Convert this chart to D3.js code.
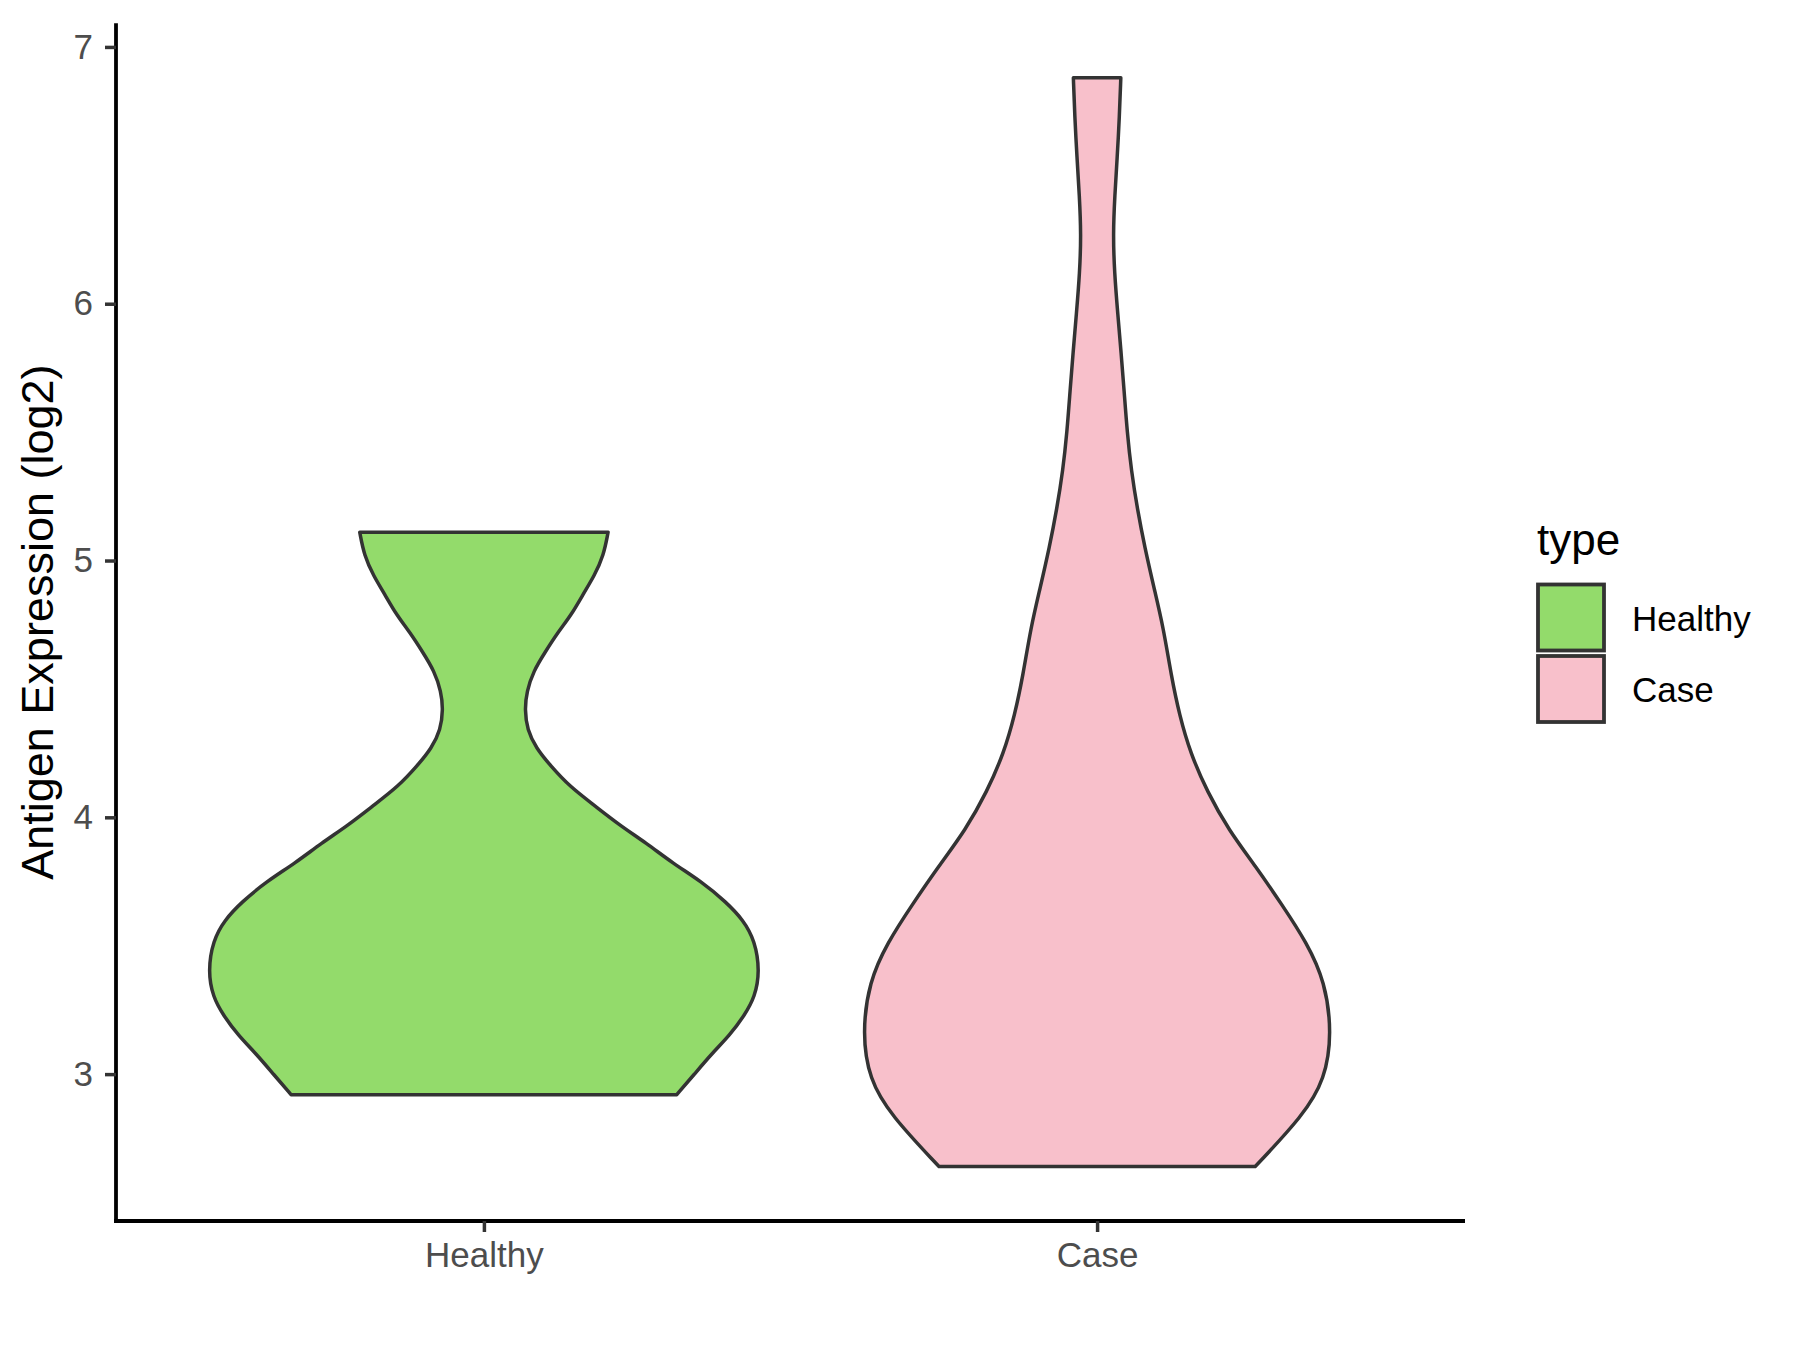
<!DOCTYPE html>
<html>
<head>
<meta charset="utf-8">
<script src="https://cdn.jsdelivr.net/npm/d3@7"></script>
<style>
body {margin: 0; background: #fff;}
text {font-family: "Liberation Sans", Arial, sans-serif;}
</style>
</head>
<body>
<div id="chart"></div>
<script>
// violin profiles: expression value and relative density (max = 1)
var categories = ["Healthy", "Case"];
var healthyY = [2.92, 3.00, 3.08, 3.15, 3.23, 3.30, 3.40, 3.52, 3.60, 3.67, 3.75, 3.82, 3.90, 3.97,
		4.05, 4.12, 4.20, 4.27, 4.34, 4.42, 4.49, 4.57, 4.64, 4.72, 4.79, 4.87, 4.94, 5.02, 5.11];
var healthyDensity = [0.699, 0.763, 0.826, 0.890, 0.945, 0.982, 1.000, 0.982, 0.940, 0.878, 0.788, 0.686, 0.588, 0.491,
		      0.396, 0.311, 0.242, 0.189, 0.157, 0.148, 0.155, 0.180, 0.220, 0.268, 0.318, 0.360, 0.400, 0.434, 0.450];
var caseY = [2.64, 2.84, 2.98, 3.16, 3.36, 3.51, 3.66, 3.81, 3.95, 4.10, 4.25, 4.40, 4.55, 4.74,
	     4.89, 5.05, 5.20, 5.35, 5.50, 5.66, 5.81, 5.96, 6.12, 6.27, 6.42, 6.57, 6.73, 6.88];
var caseDensity = [0.573, 0.748, 0.826, 0.851, 0.826, 0.761, 0.670, 0.574, 0.477, 0.399, 0.338, 0.298, 0.269, 0.240,
		   0.207, 0.173, 0.146, 0.124, 0.109, 0.098, 0.087, 0.075, 0.063, 0.058, 0.064, 0.073, 0.081, 0.086];
var yTicks = [3, 4, 5, 6, 7];
var fills = ["#93DB6B", "#F8C0CB"];

var width = 1800, height = 1350;
var plotLeft = 116, plotRight = 1465, plotTop = 23.3, plotBottom = 1221;

var groups = [
    {name: categories[0], ys: healthyY, ds: healthyDensity, fill: fills[0]},
    {name: categories[1], ys: caseY, ds: caseDensity, fill: fills[1]}
];

var svg = d3.select("#chart").append("svg")
    .attr("width", width)
    .attr("height", height);

var allY = healthyY.concat(caseY);
var ymin = d3.min(allY), ymax = d3.max(allY), pad = (ymax - ymin) * 0.05;

var x = d3.scalePoint().domain(categories).range([plotLeft, plotRight]).padding(0.6);
var y = d3.scaleLinear().domain([ymin - pad, ymax + pad]).range([plotBottom, plotTop]);
var half = x.step() * 0.45;

groups.forEach(function(g) {
    var pts = g.ys.map(function(v, i) {return {v: v, w: g.ds[i]};});
    var cx = x(g.name);
    var area = d3.area()
	.curve(d3.curveBasis)
	.y(function(d) {return y(d.v);})
	.x0(function(d) {return cx - d.w * half;})
	.x1(function(d) {return cx + d.w * half;});
    svg.append("path")
	.datum(pts)
	.attr("d", area)
	.attr("fill", g.fill)
	.attr("stroke", "#333333")
	.attr("stroke-width", 3.5)
	.attr("stroke-linejoin", "round");
});

// y axis
var yAxis = svg.append("g")
    .attr("transform", "translate(" + plotLeft + ",0)")
    .call(d3.axisLeft(y).tickValues(yTicks).tickFormat(d3.format("d")).tickSize(11).tickPadding(12));
yAxis.select(".domain").attr("stroke", "#000").attr("stroke-width", 3.8)
    .attr("d", "M0," + (plotBottom + 1.9) + "V" + plotTop);
yAxis.selectAll(".tick line").attr("stroke", "#333").attr("stroke-width", 3.5);
yAxis.selectAll(".tick text").attr("fill", "#4D4D4D").style("font-size", "35px");

// x axis
var xAxis = svg.append("g")
    .attr("transform", "translate(0," + plotBottom + ")")
    .call(d3.axisBottom(x).tickSize(11).tickPadding(10));
xAxis.select(".domain").attr("stroke", "#000").attr("stroke-width", 3.8)
    .attr("d", "M" + (plotLeft - 1.9) + ",0H" + plotRight);
xAxis.selectAll(".tick line").attr("stroke", "#333").attr("stroke-width", 3.5);
xAxis.selectAll(".tick text").attr("fill", "#4D4D4D").style("font-size", "35px");

svg.append("text")
    .attr("transform", "translate(53," + ((plotTop + plotBottom) / 2) + ") rotate(-90)")
    .attr("text-anchor", "middle")
    .style("font-size", "45px")
    .attr("fill", "#000")
    .text("Antigen Expression (log2)");

// legend
var legend = svg.append("g").attr("transform", "translate(1537,0)");
legend.append("text")
    .attr("x", 0).attr("y", 555)
    .style("font-size", "44px")
    .attr("fill", "#000")
    .text("type");
groups.forEach(function(g, i) {
    legend.append("rect")
	.attr("x", 1).attr("y", 584.5 + i * 71.5)
	.attr("width", 66).attr("height", 66)
	.attr("fill", g.fill)
	.attr("stroke", "#333333")
	.attr("stroke-width", 3.8);
    legend.append("text")
	.attr("x", 95).attr("y", 618 + i * 71.5)
	.attr("dy", "0.36em")
	.style("font-size", "35px")
	.attr("fill", "#000")
	.text(g.name);
});
</script>
</body>
</html>
